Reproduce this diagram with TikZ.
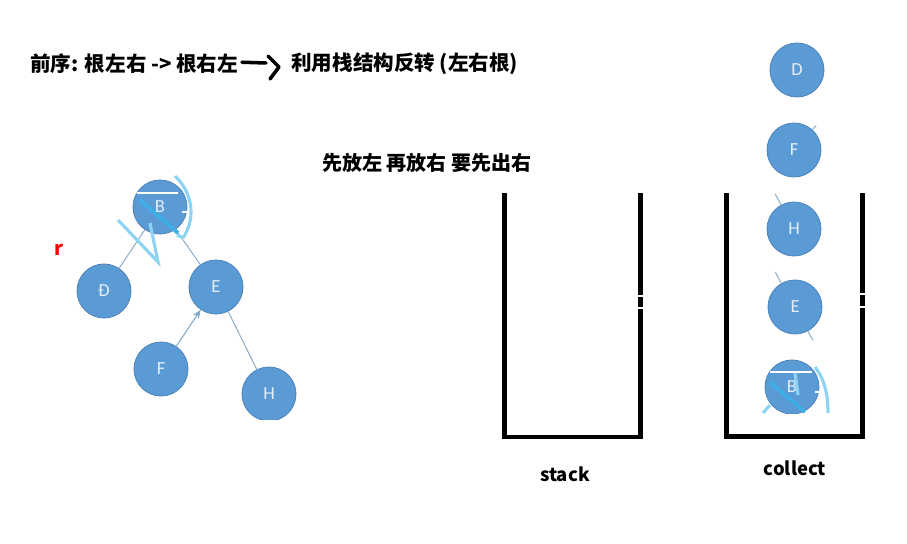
\documentclass[tikz,border=0pt]{standalone}
\usepackage{fontspec}
\setmainfont{Noto Sans CJK SC}
\newfontfamily\nodefont{Carlito}
\usetikzlibrary{arrows.meta}
\definecolor{nodeblue}{HTML}{5B9BD5}
\definecolor{nodeedge}{HTML}{4F86BD}
\definecolor{nodetext}{HTML}{E4EEF8}
\definecolor{edgecol}{HTML}{8FAECB}
\definecolor{scrib}{HTML}{8FD3F3}
\definecolor{scribd}{HTML}{3FAEE6}
\begin{document}
\begin{tikzpicture}[x=0.02cm,y=-0.02cm,
  tnode/.style={circle, minimum size=1.08cm, inner sep=0pt, fill=nodeblue, draw=nodeedge, line width=0.5pt, text=nodetext, font=\nodefont\fontsize{10.5}{12}\selectfont},
  tedge/.style={draw=edgecol, line width=0.6pt},
  wall/.style={line width=2.8pt, line cap=butt},
  tick/.style={white, line width=0.6pt},
  title/.style={font=\bfseries\fontsize{11.7}{13}\selectfont, inner sep=0pt},
  lab/.style={font=\bfseries\fontsize{10.5}{12}\selectfont, inner sep=0pt},
  scribble/.style={scrib, line width=1.8pt, line cap=butt},
  scribbled/.style={scribd, line width=2.2pt, line cap=butt},
  hand/.style={line width=2pt, line cap=round, line join=round}]
\useasboundingbox (0,0) rectangle (907,544);

% titles
\node[title, anchor=west] (t1) at (30,64) {前序: 根左右 -> 根右左};
\node[title, anchor=west] (t2) at (291,64) {利用栈结构反转 (左右根)};
\node[font=\bfseries\fontsize{11.4}{13}\selectfont, inner sep=0pt] (t3) at (427,163) {先放左 再放右 要先出右};
\coordinate (h1) at (266,63);
\coordinate (h2) at (268,56);
\coordinate (h3) at (279,67);
\coordinate (h4) at (270,79);
\draw[hand] (t1.east) ++(2pt,1pt) -- (h1);
\draw[hand] (h2) -- (h3) -- (h4);

\node[font=\bfseries\fontsize{11}{12}\selectfont, text=red, inner sep=0pt] (r) at (59,250) {r};

% tree
\node[tnode] (B) at (160,207) {B};
\node[tnode] (D) at (104,291) {Đ};
\node[tnode] (E) at (216,287) {E};
\node[tnode] (F) at (161,369) {F};
\begin{scope}
\clip (230,360) rectangle (310,419);
\node[tnode] (H) at (269,394) {H};
\end{scope}
\draw[tedge] (B) -- (D);
\draw[tedge] (B) -- (E);
\draw[tedge, -{Stealth[length=5pt,width=4pt]}, draw=edgecol!70!nodeblue] (F) -- (E);
\draw[tedge] (E) -- (H);
% scribbles on tree B
\draw[scribble] (118,220) -- (158,262) -- (150,223);
\draw[scribble] (175,176) .. controls (190,190) and (198,215) .. (183,238);
\draw[scribble] (183,238) -- (177,235);
\draw[scribbled] (140,200) -- (178,233);
\draw[tick, line width=0.8pt] (137,193) -- (178,193);
\draw[tick, line width=0.8pt] (182,212) -- (188,212);

% stack container
\draw[wall] (504.5,193) -- (504.5,437) -- (640.5,437) -- (640.5,193);
\draw[tick] (631,296) -- (644,296);
\draw[tick] (631,308) -- (644,308);
\node[lab] (stack) at (565,474) {stack};

% collect container
\draw[wall] (726.5,193) -- (726.5,436.5) -- (862.5,436.5) -- (862.5,193);
\draw[tick] (852,294) -- (866,294);
\draw[tick] (852,307) -- (866,307);
\node[lab] (collect) at (795,468) {collect};

\node[tnode] (cD) at (797,70) {D};
\node[tnode] (cF) at (794,150) {F};
\node[tnode] (cH) at (794,229) {H};
\node[tnode] (cE) at (795,307) {E};
\begin{scope}
\clip (750,355) rectangle (840,413);
\node[tnode] (cB) at (792,387) {B};
\draw[scribbled] (770,382) -- (805,412);
\draw[scribble] (795,373) -- (798,395);
\draw[scribble] (815,367) .. controls (825,380) and (828,395) .. (828,413);
\draw[scribble] (763,413) -- (770,405);
\end{scope}
\draw[tick, line width=0.8pt] (770,372) -- (812,372);
\draw[tick, line width=0.8pt] (815,392) -- (822,392);
% stubs of cut edges
\draw[tedge] (cF.48) -- ++(4,-4);
\draw[tedge] (cH.118) -- ++(-6,-11);
\draw[tedge] (cE.120) -- ++(-6,-11);
\draw[tedge] (cE.-62) -- ++(5,9);
\end{tikzpicture}
\end{document}
